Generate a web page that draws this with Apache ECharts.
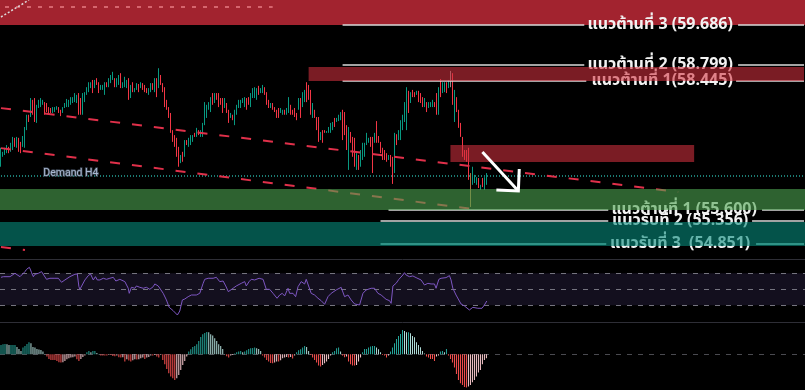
<!DOCTYPE html>
<html><head><meta charset="utf-8">
<script src="https://cdn.jsdelivr.net/npm/echarts@6/dist/echarts.min.js"></script>
<style>html,body{margin:0;padding:0;background:#000}#c{width:805px;height:390px}</style>
</head><body><div id="c"></div>
<script>
// ---------- DATA ----------
const highs = [
56.97,56.88,56.97,57.03,56.99,57.08,57.21,57.19,57.21,57.19,
57.10,57.23,57.43,57.70,57.70,58.07,58.03,58.07,57.92,58.03,
58.07,58.03,57.98,57.96,57.87,57.85,57.87,57.87,57.89,57.87,
57.81,57.87,57.96,58.05,58.03,58.09,58.09,58.18,58.14,58.18,
58.07,58.18,58.20,58.31,58.42,58.42,58.47,58.47,58.51,58.42,
58.36,58.36,58.42,58.42,58.51,58.58,58.65,58.51,58.51,58.58,
58.62,58.42,58.54,58.47,58.51,58.36,58.42,58.29,58.40,58.38,
58.42,58.40,58.36,58.29,58.29,58.40,58.40,58.51,58.51,58.73,
58.58,58.40,58.31,58.03,57.87,57.74,57.36,57.25,57.19,56.99,
56.81,56.88,57.14,57.14,57.19,57.25,57.25,57.30,57.41,57.36,
57.36,57.52,57.98,57.92,57.98,58.09,58.18,58.18,58.18,58.18,
58.07,58.07,58.07,57.96,57.81,57.74,57.70,57.81,57.92,58.03,
58.03,58.07,58.09,58.07,58.09,58.18,58.29,58.31,58.29,58.34,
58.29,58.36,58.31,58.20,58.03,57.96,57.96,57.87,57.81,57.85,
57.85,57.81,57.81,57.85,58.09,57.92,57.81,57.85,57.74,58.07,
58.07,58.20,58.25,58.42,58.36,58.25,57.96,57.81,57.65,57.65,
57.32,57.36,57.36,57.34,57.43,57.52,57.54,57.63,57.63,57.70,
57.76,57.81,57.76,57.47,57.43,57.32,57.21,57.19,56.85,56.81,
56.92,57.08,57.08,57.30,57.19,57.21,57.21,57.30,57.56,57.23,
57.10,56.97,56.92,56.85,56.81,56.81,56.77,57.30,57.27,57.36,
57.58,57.70,57.98,58.31,58.23,58.20,58.25,58.20,58.23,58.23,
58.18,58.09,58.07,57.98,57.98,57.98,58.03,57.98,58.18,58.31,
58.49,58.42,58.42,58.42,58.47,58.67,58.62,58.25,58.09,57.81,
57.52,57.21,56.92,56.92,56.97,56.41,56.55,56.37,56.32,56.30,
56.15,56.30,56.32,56.41];
const lows = [
56.55,56.77,56.81,56.85,56.85,56.88,56.92,56.99,56.97,56.88,
56.85,56.99,56.97,57.36,57.54,57.65,57.70,57.54,57.52,57.85,
57.87,57.92,57.70,57.76,57.70,57.74,57.74,57.76,57.81,57.74,
57.67,57.74,57.85,57.87,57.87,57.92,57.96,57.98,57.96,57.70,
57.70,57.70,57.98,58.14,58.20,58.29,58.18,58.29,58.36,58.18,
58.25,58.25,58.14,58.31,58.31,58.40,58.47,58.31,58.31,58.36,
58.29,58.29,58.31,58.29,58.03,58.07,58.20,58.20,58.25,58.20,
58.29,58.25,58.20,58.18,58.14,58.20,58.25,58.20,58.09,58.29,
58.36,58.20,57.87,57.81,57.63,57.30,57.10,56.99,56.77,56.55,
56.63,56.66,56.77,57.03,56.99,57.03,57.10,57.21,57.21,57.25,
57.21,57.21,57.47,57.63,57.81,57.76,57.92,57.96,58.03,57.87,
57.92,57.74,57.85,57.74,57.52,57.63,57.58,57.47,57.70,57.85,
57.85,57.96,57.87,57.81,57.92,57.87,58.07,58.07,58.03,58.14,
58.18,58.18,58.14,57.92,57.85,57.85,57.81,57.76,57.63,57.63,
57.74,57.70,57.70,57.70,57.74,57.70,57.70,57.65,57.58,57.81,
57.63,57.87,57.98,57.98,58.03,57.70,57.63,57.63,57.36,57.10,
57.14,57.08,57.30,57.30,57.30,57.30,57.36,57.43,57.54,57.56,
57.58,57.14,57.25,56.92,56.48,57.08,56.77,56.55,56.48,56.48,
56.55,56.70,56.77,57.03,57.08,56.99,56.41,57.08,57.08,57.08,
56.85,56.70,56.70,56.66,56.70,56.55,56.17,56.41,57.03,57.14,
57.14,57.36,57.54,57.36,57.74,57.96,58.09,58.09,58.14,57.98,
57.96,57.87,57.87,57.76,57.85,57.87,57.87,57.87,57.70,57.70,
58.09,58.18,58.20,58.18,58.29,58.31,57.92,57.54,57.76,57.41,
57.21,56.77,56.70,56.66,56.26,55.66,56.15,56.19,56.15,56.08,
56.04,56.10,56.04,56.15];
// u = up candle, d = down candle, n = neutral (grey), b = brown wick
const dirs = "uuuuduudud"+"duuududduu"+"uudddduuud"+"duuuuuuuud"+"duuuuududd"+
             "uuuduuuduu"+"duuududuud"+"uddduududu"+"dddddddddd"+"ududuuudud"+
             "uuuuuududd"+"ddudduduuu"+"uuudduuuud"+"uudddudddd"+"uuduuddddu"+
             "duuddduddd"+"udduuuuduu"+"udddudddud"+"uuuuuddudd"+"dddduddudu"+
             "uuuududdud"+"dduduuuddu"+"duudundudd"+"dddddbuuud"+"uduu";

const rsiPoints = [[0,65],[1.2,65.8],[4.5,65.8],[7,70],[9.5,65.8],[10.3,64.6],[12,72.1],[12.8,75],[14.2,77.5],[14.8,74.2],[15.3,70.8],[16.2,65.8],[17,68.8],[18.7,70],[20.3,72.1],[21.2,70],[22.8,62.5],[24.5,63.8],[27,63.8],[28.7,63.8],[30.3,58.8],[32,61.7],[34.5,65.8],[37,68.8],[38.2,69.2],[39,53.3],[39.5,50],[40.3,50.4],[42,61.7],[43.7,67.1],[44.8,69.2],[46.2,61.7],[47.3,65.8],[48.2,61.7],[49.5,61.7],[51.2,63.8],[52.8,62.5],[54.5,63.8],[56.2,65],[57.5,60.4],[59.5,62.5],[62,59.6],[63.7,51.3],[64.2,45],[65.3,52.5],[67,51.3],[67.8,54.2],[69.5,52.5],[71.2,51.3],[72.8,52.5],[74.5,50],[76.2,53.3],[77,56.7],[78.7,54.2],[79.5,53.3],[81.2,45],[82.8,36.7],[84.2,27.5],[86.2,23.3],[88.3,17.9],[89.5,22.9],[90.8,36.7],[92,37.9],[93.7,40.8],[95.3,42.9],[97.8,42.9],[99.5,45],[101.2,57.5],[102,62.5],[103.7,63.8],[106.2,63.8],[107.8,65],[109.5,59.6],[111.2,60.4],[112.5,54.2],[113.8,47.1],[114.5,49.2],[116.2,51.3],[117.8,54.2],[120.3,57.5],[122,59.6],[122.8,54.2],[124.2,59.6],[125.3,62.5],[127,61.7],[129.2,63.8],[131.2,62.5],[132.8,50],[134.5,50],[136.2,45],[138.2,38.8],[139.5,42.9],[140.8,45],[142,41.7],[143.7,51.3],[144.5,45],[146.2,45],[147.5,40.8],[148.7,53.3],[150.3,59.6],[152,56.7],[152.8,62.5],[153.7,62.5],[155.3,45],[157,42.9],[158.7,38.8],[160.3,35.8],[162,31.3],[163.7,40.8],[165.3,45],[167.8,49.2],[170.3,52.5],[172,40.8],[172.8,38.8],[173.7,42.9],[175.3,36.7],[177,31.7],[177.8,29.6],[179.5,30.4],[181.2,45],[182.8,49.2],[185.3,51.3],[187,51.3],[188.7,45],[190.3,42.9],[192.8,37.5],[194.5,35.8],[195.3,32.5],[196.2,54.2],[197.8,57.5],[199.2,62.5],[199.5,65],[201.2,67.9],[202,70.8],[202.8,67.9],[204.5,65.8],[206.2,66.7],[207.8,64.6],[208.7,63.8],[210.3,61.7],[212,55.4],[213.7,57.5],[215.3,56.7],[217,56.7],[217.8,51.3],[219.2,62.5],[220.3,63.8],[222.8,64.6],[224.5,67.1],[225.3,61.7],[226.2,51.3],[227.8,42.9],[230.3,31.7],[232,29.2],[234.5,24.2],[236.2,27.5],[238.7,26.3],[240.8,26.3],[242,30.4],[243.2,35.4]];
const rsiLevels = [70, 50, 30];

const macdHist = [
9.3,10,10.3,10,9.3,9.3,9.3,9.3,7.3,5.3,
3.3,6.7,8.3,10.3,12,11,7.3,6.7,5.3,4.7,
4.3,2.7,0.3,-2.3,-4.7,-5.7,-5.7,-5.7,-6.7,-8,
-8.3,-8,-6.7,-5,-4,-3.3,-3,-2.3,-5,-6.7,
-4.7,-2.7,-1.3,2,3.3,2,3.3,3.3,1.3,0.3,
-1.3,-1.3,-1.3,-1.3,-0.7,-0.7,-1.7,-2,-1.3,-3,
-3.3,-3,-7.3,-5,-6.3,-7.3,-6,-5,-5.3,-5,
-4,-3.3,-4.7,-3.3,-2.7,-1.3,-1.3,-0.7,-2.3,-3.3,
-0.7,-5.7,-10,-14.7,-19,-22.3,-24,-25.7,-24,-20.7,
-15.7,-10.7,-6.7,-2.3,2.7,5,7.3,8.3,10,13.3,
17.3,20,21.3,22.3,22,20,18.7,16,13.3,10,
8.3,5.3,0.3,-2,-3.3,-1.3,-0.7,0.7,2,2.7,
3.3,2,2.7,4,5.3,6,6.3,6.7,6,5.3,
3.3,-1.3,-3.3,-5.7,-7.3,-8.7,-9,-8.3,-7.3,-7.3,
-6,-4,-3.3,-2.7,-3.3,-2.7,-4.3,-1.3,2,4,
5,6.7,8.3,7.3,3.3,-0.7,-3.3,-5.7,-8.3,-11.3,
-12.3,-10.7,-9,-7.3,-4.7,-1.3,2,3.3,6,6.7,
2.7,-1.3,-3,-2.3,-7.3,-10,-11.3,-11.3,-10.7,-7.3,
-3.3,2,5.3,5.3,6.7,7.7,8.3,8.3,6.7,5,
2,-0.7,-1.3,-3.3,-1.3,2.7,6.7,11,
15.3,18.3,20.3,24.3,23.3,22,22,21,18.3,17,
12,9.3,7,3.3,0.7,-2.3,-3.3,-4.7,-4.7,-6.7,
-2.3,-1.3,2.7,3.3,2,5.3,-1.3,-4.7,-8.3,-13.3,
-19.7,-25.7,-29,-30.7,-32.7,-33.3,-32.3,-30.7,-28,-25.7,
-22.3,-18.3,-15.7,-10,-5.7,-4];

// price levels (horizontal lines with labels)
const levelNames  = ['แนวต้านที่ 3 (59.686)','แนวต้านที่ 2 (58.799)','แนวต้านที่ 1(58.445)','แนวต้านที่ 1 (55.600)','แนวรับที่ 2 (55.356)','แนวรับที่ 3  (54.851)'];
const levelPrices = [59.686, 58.799, 58.445, 55.600, 55.356, 54.851];
const levelStart  = [171, 171, 171, 194, 190, 190];   // candle slot where each line begins

// zones [top price, bottom price, from slot, to slot]
const zoneTop    = [58.757, 57.031, 56.058, 55.327];
const zoneBottom = [58.445, 56.655, 55.593, 54.797];
const zoneFrom   = [154, 225, null, null];
const zoneTo     = [402, 347, null, null];
const topZone    = [60.239, 59.686];

// trend lines [[slot, price], [slot, price]]
const trendUpper = [[0, 57.847], [339, 55.993]];
const trendLower = [[0, 56.962], [240, 55.593]];
const trendLow3  = [[0, 54.772], [12, 54.706]];
const dottedDiag = [[0, 59.863], [14, 60.239]];
const pinkDashed = [[2, 60.084], [136, 60.084]];
const demandPrice = 56.345;
const demandLabel = 'Demand H4';
const arrowLine = [241, 56.876, 259, 56.013];

// ---------- STYLE / LAYOUT ----------
const SLOTS = 403;
const slots = Array.from({length: SLOTS}, (_, i) => String(i));
const UP = '#089981', DOWN = '#f23645';
const THAI = "'Noto Sans Thai','Noto Sans Thai Looped','Tahoma','Noto Sans','DejaVu Sans',sans-serif";
// label gaps (slot range where the line is interrupted) and label centres
const gapFrom = [292, 292, 293, 304, 304, 303];
const gapTo   = [369, 369, 368, 381, 376, 378];
const labelAt = [330, 330, 331, 342, 340, 340];
const zoneColors = ['rgba(210,48,62,0.58)','rgba(210,48,62,0.58)','rgba(77,163,80,0.6)','rgba(7,138,123,0.6)'];

const candleData = highs.map((h, i) => {
  const l = lows[i], d = dirs[i];
  const item = {value: d === 'd' ? [h, l, l, h] : [l, h, l, h]};
  if (d === 'n') item.itemStyle = {color:'#8c8c8c', color0:'#8c8c8c', borderColor:'#8c8c8c', borderColor0:'#8c8c8c'};
  if (d === 'b') item.itemStyle = {color:'#b0703e', color0:'#b0703e', borderColor:'#b0703e', borderColor0:'#b0703e'};
  return item;
});

const macdColor = (i) => {
  const v = macdHist[i], p = i > 0 ? macdHist[i-1] : v;
  if (v >= 0) return v >= p ? '#26a69a' : '#b2dfdb';
  return v <= p ? '#ff5252' : '#ffcdd2';
};

const levelSegs = [];
levelPrices.forEach((p, k) => {
  const col = k === 5 ? '#8fd3c8' : '#dadada';
  levelSegs.push([{coord:[levelStart[k], p], lineStyle:{color:col, width:1.5, type:'solid'}}, {coord:[gapFrom[k], p]}]);
  levelSegs.push([{coord:[gapTo[k], p], lineStyle:{color:col, width:1.5, type:'solid'}}, {coord:[SLOTS-1, p]}]);
});
const dash = {color:'#e0304a', width:2, type:[10,12]};
const seg = (pts, ls) => [{coord:pts[0], lineStyle:ls}, {coord:pts[1]}];

const chart = echarts.init(document.getElementById('c'), null, {renderer:'canvas'});
chart.setOption({
  backgroundColor:'#000',
  animation:false,
  grid:[
    {left:-0.5, width:806, top:0, height:259},
    {left:-0.5, width:806, top:259, height:63},
    {left:-0.5, width:806, top:322, height:68}
  ],
  xAxis:[
    {type:'category', gridIndex:0, data:slots, boundaryGap:true,
     axisLine:{show:true, lineStyle:{color:'#2e2e36', width:1}}, axisTick:{show:false}, axisLabel:{show:false}, splitLine:{show:false}},
    {type:'value', gridIndex:1, min:-0.5, max:SLOTS-0.5,
     axisLine:{show:true, onZero:false, lineStyle:{color:'#2e2e36', width:1}}, axisTick:{show:false}, axisLabel:{show:false}, splitLine:{show:false}},
    {type:'category', gridIndex:2, data:slots, boundaryGap:true, show:false}
  ],
  yAxis:[
    {type:'value', gridIndex:0, min:54.509, max:60.239, show:false, splitLine:{show:false}},
    {type:'value', gridIndex:1, min:9.15, max:87.9, show:false, splitLine:{show:false}},
    {type:'value', gridIndex:2, min:-35.7, max:32.3, show:false, splitLine:{show:false}}
  ],
  series:[
    { // background red zone + thin decorative lines
      type:'line', xAxisIndex:0, yAxisIndex:0, data:[], z:1, silent:true,
      markArea:{z:1, silent:true, itemStyle:{color:'#a2232f'}, data:[[{yAxis:topZone[0]},{yAxis:topZone[1]}]]},
      markLine:{z:2, silent:true, symbol:'none', label:{show:false}, data:[
        seg(pinkDashed, {color:'#e87c84', width:1.5, type:[4,7]}),
        seg(dottedDiag, {color:'#dddddd', width:1.5, type:[2,2]}),
        [{coord:[0, demandPrice], lineStyle:{color:'#26a69a', width:1.5, type:[1,2]}}, {coord:[SLOTS-1, demandPrice]}]
      ]},
      markPoint:{z:3, silent:true, symbol:'rect', symbolSize:1, itemStyle:{color:'rgba(0,0,0,0)'},
        label:{show:true, position:'inside', color:'#a9b8d0', fontSize:10.5, fontFamily:'Roboto, sans-serif',
               textBorderColor:'#39424f', textBorderWidth:1.5, formatter:demandLabel},
        data:[{coord:[35, 56.40]}]}
    },
    {
      type:'candlestick', name:'price', xAxisIndex:0, yAxisIndex:0, z:2, silent:true,
      barWidth:0.01, data:candleData,
      itemStyle:{color:UP, color0:DOWN, borderColor:UP, borderColor0:DOWN, borderWidth:1}
    },
    { // trend lines, level lines and labels
      type:'line', xAxisIndex:0, yAxisIndex:0, data:[], z:3, silent:true,
      markLine:{z:3, silent:true, symbol:'none', label:{show:false}, data:[
        seg(trendUpper, dash), seg(trendLower, dash), seg(trendLow3, dash)
      ].concat(levelSegs)},
      markPoint:{z:4, silent:true, symbol:'rect', symbolSize:1, itemStyle:{color:'rgba(0,0,0,0)'},
        label:{show:true, position:'inside', color:'#f2f2f2', fontSize:16, fontWeight:'bold', fontFamily:THAI, formatter:p=>p.name},
        data:levelNames.map((n,k)=>({name:n, coord:[labelAt[k], levelPrices[k]], label:{offset:[0,1]}}))}
    },
    { // translucent zones over everything
      type:'line', xAxisIndex:0, yAxisIndex:0, data:[], z:6, silent:true,
      markArea:{z:6, silent:true, data: zoneTop.map((t,k)=>{
        const a = {yAxis:t, itemStyle:{color:zoneColors[k]}}, b = {yAxis:zoneBottom[k]};
        if (zoneFrom[k] !== null) { a.xAxis = zoneFrom[k]; b.xAxis = zoneTo[k]; }
        return [a, b];
      })}
    },
    { // arrow
      type:'custom', xAxisIndex:0, yAxisIndex:0, z:7, silent:true, data:[arrowLine],
      encode:{x:[0,2], y:[1,3]},
      renderItem:(params, api) => {
        const a = api.coord([api.value(0), api.value(1)]);
        const b = api.coord([api.value(2), api.value(3)]);
        const ang = Math.atan2(b[1]-a[1], b[0]-a[0]);
        const L = 22, s = Math.PI/4;
        const p1 = [b[0]-L*Math.cos(ang - s), b[1]-L*Math.sin(ang - s)];
        const p2 = [b[0]-L*Math.cos(ang + s), b[1]-L*Math.sin(ang + s)];
        return {type:'group', children:[
          {type:'polyline', shape:{points:[a,b]}, style:{stroke:'#ffffff', lineWidth:3, fill:null}},
          {type:'polyline', shape:{points:[p1,b,p2]}, style:{stroke:'#ffffff', lineWidth:3, fill:null, lineJoin:'miter'}}
        ]};
      }
    },
    { // RSI
      type:'line', xAxisIndex:1, yAxisIndex:1, data:rsiPoints, showSymbol:false, silent:true, z:3,
      lineStyle:{color:'#7e57c2', width:1}, itemStyle:{color:'#7e57c2'},
      markArea:{z:1, silent:true, itemStyle:{color:'#130f1e'}, data:[[{yAxis:rsiLevels[0]},{yAxis:rsiLevels[2]}]]},
      markLine:{z:2, silent:true, symbol:'none', label:{show:false},
        lineStyle:{color:'#75747f', width:1, type:[5,6]},
        data:rsiLevels.map(v=>({yAxis:v}))}
    },
    { // MACD histogram
      type:'bar', xAxisIndex:2, yAxisIndex:2, silent:true, z:3, barWidth:1,
      data:macdHist.map((v,i)=>({value:v, itemStyle:{color:macdColor(i)}})),
      markLine:{z:2, silent:true, symbol:'none', label:{show:false},
        lineStyle:{color:'#4a4a50', width:1, type:[5,6]}, data:[{yAxis:0}]}
    }
  ]
});
</script>
</body></html>
